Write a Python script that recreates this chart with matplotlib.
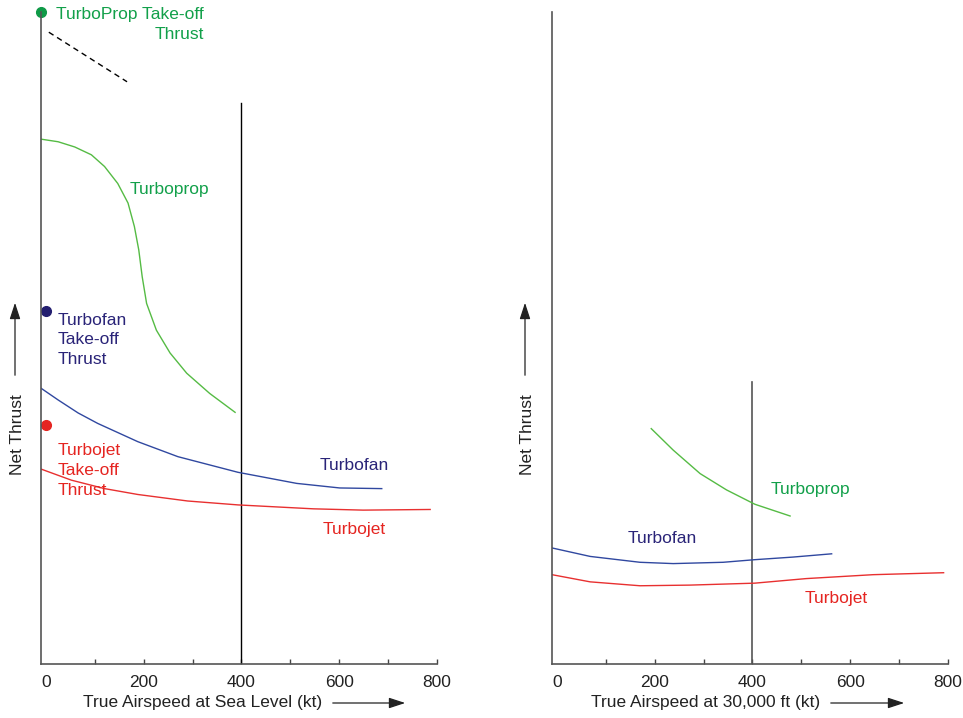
import matplotlib
matplotlib.use("Agg")
import matplotlib.pyplot as plt
from matplotlib.patches import FancyArrowPatch

plt.rcParams["font.family"] = ["Liberation Sans", "DejaVu Sans"]
plt.rcParams["font.size"] = 12.5

# sea level curves, net thrust in arbitrary units 0-100
sl_prop_x = [-10, 25, 59, 93, 120, 147, 168, 181, 190, 197, 206, 226, 254, 288, 335, 387]
sl_prop_y = [80.5, 80.1, 79.3, 78.1, 76.3, 73.7, 70.7, 67.1, 63.5, 59.4, 55.3, 51.2,
             47.7, 44.6, 41.5, 38.6]
sl_fan_x = [-10, 25, 66, 106, 188, 270, 393, 513, 601, 687]
sl_fan_y = [42.3, 40.5, 38.5, 36.9, 34.1, 31.8, 29.4, 27.7, 27.0, 26.9]
sl_jet_x = [-10, 52, 120, 188, 290, 393, 547, 649, 786]
sl_jet_y = [29.9, 28.2, 26.9, 26.0, 25.0, 24.4, 23.8, 23.6, 23.7]

# 30,000 ft curves
alt_prop_x = [193, 238, 293, 347, 405, 477]
alt_prop_y = [36.1, 32.8, 29.2, 26.7, 24.5, 22.7]
alt_fan_x = [-10, 68, 170, 238, 340, 405, 483, 562]
alt_fan_y = [17.8, 16.5, 15.6, 15.4, 15.6, 16.0, 16.4, 16.9]
alt_jet_x = [-10, 68, 170, 272, 405, 510, 647, 791]
alt_jet_y = [13.7, 12.6, 12.0, 12.1, 12.4, 13.1, 13.7, 14.0]

# take-off thrust points
takeoff_x = [-10, 0, 0]
takeoff_y = [100, 54.1, 36.7]
dash_x = [6, 166]
dash_y = [96.9, 89.3]

tick_pos = [0, 100, 200, 300, 400, 500, 600, 700, 800]
tick_lab = ["0", "", "200", "", "400", "", "600", "", "800"]

GREEN_T, GREEN_L = "#12a04a", "#55bb44"
BLUE_T, BLUE_L = "#2a2478", "#3048a0"
RED_T, RED_L = "#e52521", "#e83030"

W, H = 963, 718
fig = plt.figure(figsize=(W / 100, H / 100), dpi=100)


def make_ax(left_px):
    ax = fig.add_axes([left_px / W, 1 - 664 / H, 396 / W, 652 / H])
    ax.set_xlim(-10, 800)
    ax.set_ylim(0, 100)
    for s in ["top", "right"]:
        ax.spines[s].set_visible(False)
    for s in ["left", "bottom"]:
        ax.spines[s].set_color("#555555")
        ax.spines[s].set_linewidth(1.2)
    ax.set_xticks(tick_pos)
    ax.set_xticklabels(tick_lab)
    ax.set_yticks([])
    ax.tick_params(axis="x", direction="in", length=3.5, width=1,
                   color="#444444", labelcolor="#222222", pad=8)
    ax.xaxis.get_major_ticks()[0].tick1line.set_visible(False)
    return ax


ax1 = make_ax(41)
ax2 = make_ax(552)

# left panel: sea level
ax1.plot([400, 400], [0, 86], color="black", lw=1)
ax1.plot(sl_prop_x, sl_prop_y, color=GREEN_L, lw=1)
ax1.plot(sl_fan_x, sl_fan_y, color=BLUE_L, lw=1)
ax1.plot(sl_jet_x, sl_jet_y, color=RED_L, lw=1)
ax1.plot(dash_x, dash_y, color="black", lw=1, ls=(0, (4, 3)))
for xv, yv, c in zip(takeoff_x, takeoff_y, ["#0f9a47", "#241f70", "#e52521"]):
    ax1.plot(xv, yv, "o", color=c, ms=7, clip_on=False)

ax1.text(323, 100.8, "TurboProp Take-off\nThrust", color=GREEN_T, ha="right",
         va="top", multialignment="right", linespacing=1.4)
ax1.text(172, 72.7, "Turboprop", color=GREEN_T, va="center")
ax1.text(25, 53.9, "Turbofan\nTake-off\nThrust", color=BLUE_T, va="top",
         linespacing=1.4)
ax1.text(25, 33.9, "Turbojet\nTake-off\nThrust", color=RED_T, va="top",
         linespacing=1.4)
ax1.text(560, 30.5, "Turbofan", color=BLUE_T, va="center")
ax1.text(567, 20.6, "Turbojet", color=RED_T, va="center")

# right panel: 30,000 ft
ax2.plot([400, 400], [0, 43.3], color="#555555", lw=1.2)
ax2.plot(alt_prop_x, alt_prop_y, color=GREEN_L, lw=1)
ax2.plot(alt_fan_x, alt_fan_y, color=BLUE_L, lw=1)
ax2.plot(alt_jet_x, alt_jet_y, color=RED_L, lw=1)
ax2.text(438, 26.8, "Turboprop", color=GREEN_T, va="center")
ax2.text(145, 19.3, "Turbofan", color=BLUE_T, va="center")
ax2.text(507, 10.0, "Turbojet", color=RED_T, va="center")


def fx(px):
    return px / W


def fy(py):
    return 1 - py / H


arrow = dict(arrowstyle="-|>,head_length=0.55,head_width=0.18",
             color="#222222", lw=0.9, mutation_scale=18)

# axis labels with arrows
for x_txt, label, a0, a1 in [(203, "True Airspeed at Sea Level (kt)", 330, 408),
                             (706, "True Airspeed at 30,000 ft (kt)", 828, 907)]:
    fig.text(fx(x_txt), fy(703), label, ha="center", va="center",
             color="#222222")
    fig.add_artist(FancyArrowPatch((fx(a0), fy(703)), (fx(a1), fy(703)),
                                   transform=fig.transFigure, **arrow))

for x_txt in [17, 527]:
    fig.text(fx(x_txt), fy(435), "Net Thrust", rotation=90, ha="center",
             va="center", color="#222222")
    fig.add_artist(FancyArrowPatch((fx(x_txt - 2), fy(378)), (fx(x_txt - 2), fy(300)),
                                   transform=fig.transFigure, **arrow))

fig.savefig("out.png", dpi=100)
